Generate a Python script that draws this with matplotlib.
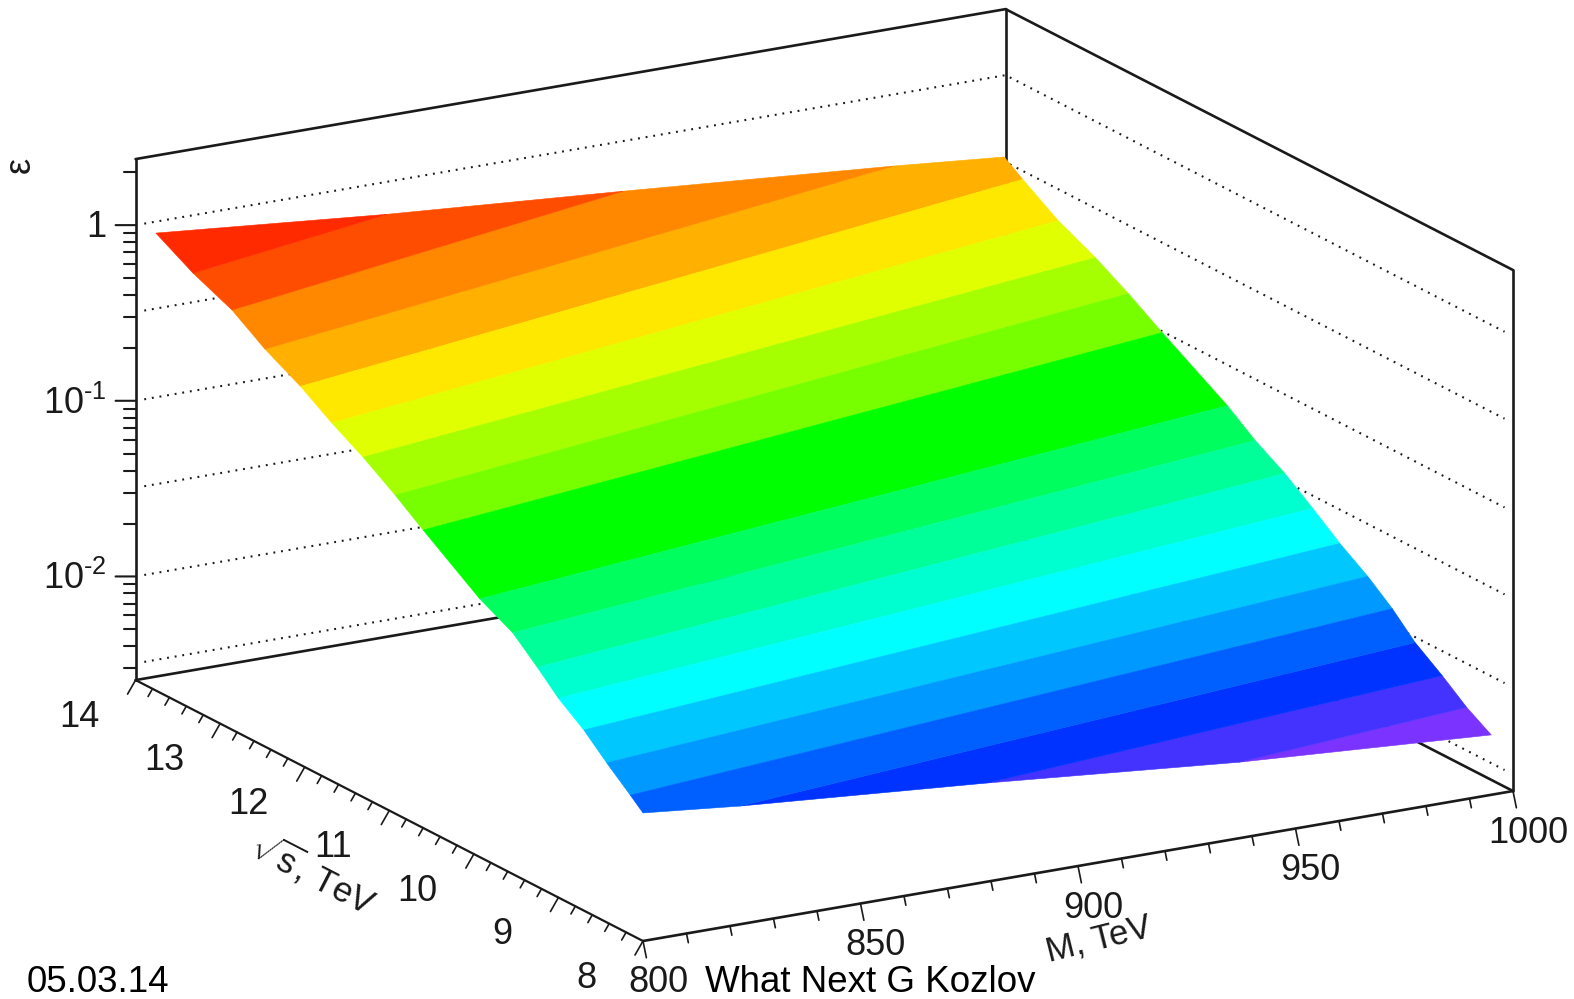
import numpy as np
import matplotlib
matplotlib.use('Agg')
import matplotlib.pyplot as plt
from mpl_toolkits.mplot3d import proj3d
from mpl_toolkits.mplot3d.art3d import Poly3DCollection

plt.rcParams['font.family'] = ['Liberation Sans', 'DejaVu Sans']
plt.rcParams['mathtext.fontset'] = 'custom'
plt.rcParams['mathtext.rm'] = 'Liberation Sans'
plt.rcParams['mathtext.it'] = 'Liberation Sans:italic'
plt.rcParams['mathtext.default'] = 'regular'

# axis ranges
m_lim = (800, 1000)
s_lim = (8, 14)
z_lim = (-2.59, 0.376)  # log10(eps)

m_major = [800, 850, 900, 950, 1000]
s_major = [8, 9, 10, 11, 12, 13, 14]
z_major = [1, 0.1, 0.01]
z_major_labels = ['1', '10$^{\u20101}$', '10$^{\u20102}$']
z_minor = [2, 0.9, 0.8, 0.7, 0.6, 0.5, 0.4, 0.3, 0.2,
           0.09, 0.08, 0.07, 0.06, 0.05, 0.04, 0.03, 0.02,
           0.009, 0.008, 0.007, 0.006, 0.005, 0.004, 0.003]
z_grid = [1, 0.32, 0.1, 0.032, 0.01, 0.0032]

# surface corners (M, sqrt(s), log10 eps)
corner_tl = (800, 13.76, 0.014)
corner_tr = (995, 13.76, -0.385)
corner_fl = (800, 8.0, -1.861)
corner_fr = (995, 8.0, -2.249)

# colour band boundaries, read along the edges of the surface
start_m = [800] * 15 + [822.3, 879, 937]
start_s = [13.32, 12.86, 12.47, 12.05, 11.68, 11.31, 10.93, 10.60, 9.93,
           9.54, 9.25, 9.00, 8.70, 8.43, 8.15, 8.0, 8.0, 8.0]
start_z = [-0.105, -0.201, -0.327, -0.435, -0.552, -0.655, -0.777, -0.894, -1.120,
           -1.217, -1.341, -1.456, -1.562, -1.682, -1.797, -1.917, -2.028, -2.157]
end_m = [853.2, 907.4, 969.5] + [995] * 15
end_s = [13.76, 13.76, 13.76, 13.54, 13.12, 12.68, 12.29, 11.89, 11.12,
         10.79, 10.44, 10.11, 9.79, 9.46, 9.17, 8.90, 8.58, 8.29]
end_z = [-0.106, -0.206, -0.328, -0.458, -0.589, -0.691, -0.799, -0.922, -1.147,
         -1.264, -1.365, -1.482, -1.602, -1.708, -1.820, -1.946, -2.055, -2.164]

band_colors = ['#ff2a00', '#ff4d00', '#ff8800', '#ffb000', '#ffe800', '#e0ff00', '#a6ff00',
               '#77ff00', '#00ff00', '#00ff5e', '#00ff99', '#00ffd0', '#00ffff', '#00c8ff',
               '#0099ff', '#0060ff', '#0033ff', '#4433ff', '#7b33ff']

line_color = '#1a1a1a'
text_color = '#1a1a1a'

fig = plt.figure(figsize=(15.74, 9.99), dpi=100)
W, H = 1574, 999
side = 2000
ax = fig.add_axes([(W - side) / 2 / W, (H - side) / 2 / H, side / W, side / H],
                  projection='3d', proj_type='ortho', computed_zorder=False)
ax.set_axis_off()
ax.set_xlim(*m_lim, view_margin=0)
ax.set_ylim(*s_lim, view_margin=0)
ax.set_zlim(*z_lim, view_margin=0)
ax.view_init(elev=17.32, azim=-120.07)
aspect = (1005.2, 1012.6, 545.7)
ax.set_box_aspect(aspect, zoom=1)


def to_pixel(m, s, z):
    x2, y2, _ = proj3d.proj_transform(m, s, z, ax.get_proj())
    return ax.transData.transform((x2, y2))


# scale and shift the box so its front corners land where they do in the picture
ax.apply_aspect()
span = to_pixel(1000, 8, z_lim[0])[0] - to_pixel(800, 8, z_lim[0])[0]
ax.set_box_aspect(aspect, zoom=870 / span)
ax.apply_aspect()
px = to_pixel(800, 8, z_lim[0])
pos = ax.get_position()
ax.set_position([pos.x0 + (643 - px[0]) / W, pos.y0 + ((H - 941) - px[1]) / H, pos.width, pos.height])
ax.apply_aspect()

zlo, zhi = z_lim
mlo, mhi = m_lim
slo, shi = s_lim


def seg(a, b, lw=1.9, **kw):
    kw.setdefault('color', line_color)
    ax.plot([a[0], b[0]], [a[1], b[1]], [a[2], b[2]], lw=lw, zorder=kw.pop('zorder', 3),
            solid_capstyle='round', **kw)


# box
seg((mlo, shi, zlo), (mhi, shi, zlo), zorder=1)
seg((mhi, shi, zlo), (mhi, slo, zlo), zorder=1)
seg((mhi, shi, zlo), (mhi, shi, zhi), zorder=1)
seg((mlo, shi, zhi), (mhi, shi, zhi))
seg((mhi, shi, zhi), (mhi, slo, zhi))
seg((mlo, shi, zlo), (mlo, shi, zhi))
seg((mhi, slo, zlo), (mhi, slo, zhi))
seg((mlo, shi, zlo), (mlo, slo, zlo), lw=1.6)
seg((mlo, slo, zlo), (mhi, slo, zlo))

# dotted grid on the two back walls
for v in z_grid:
    z = np.log10(v)
    ax.plot([mlo + 2, mhi, mhi], [shi, shi, slo + 0.1], [z, z, z], color=line_color, lw=1.5,
            linestyle=(0, (0.9, 2.8)), zorder=1)

# surface, one polygon per colour band
polys = []
for i in range(len(band_colors)):
    poly = []
    if i == 0:
        poly.append(corner_tl)
    else:
        poly.append((start_m[i - 1], start_s[i - 1], start_z[i - 1]))
        poly.append((end_m[i - 1], end_s[i - 1], end_z[i - 1]))
    if i == 3:
        poly.append(corner_tr)
    if i < len(start_m):
        poly.append((end_m[i], end_s[i], end_z[i]))
        poly.append((start_m[i], start_s[i], start_z[i]))
    else:
        poly.append(corner_fr)
    if i == 15:
        poly.append(corner_fl)
    polys.append(poly)
surf = Poly3DCollection(polys, facecolors=band_colors, edgecolors=band_colors, linewidths=0.4, zorder=2)
ax.add_collection3d(surf, autolim=False)

# eps axis ticks, horizontal on screen
flat = 0.75 / 175.7


def z_tick(z, length):
    dm = length / 4.35
    seg((mlo, shi, z), (mlo - dm, shi, z + dm * flat), lw=1.5)


for v in z_major:
    z_tick(np.log10(v), 20)
for v in z_minor:
    z_tick(np.log10(v), 12)
for v, lab in zip(z_major, z_major_labels):
    z = np.log10(v)
    ax.text(mlo - 6.7, shi, z + 6.7 * flat - 0.015, lab, ha='right', va='center', fontsize=26, color=text_color)
ax.text(mlo - 26.4, shi, 0.34 + 26.4 * flat, '\u03b5', zdir=(0, 0, 1), ha='center', va='center', fontsize=26,
        color=text_color)

# sqrt(s) axis ticks
for s in np.arange(slo, shi + 0.01, 0.2):
    major = abs(s - round(s)) < 0.01
    k = 1.0 if major else 0.55
    seg((mlo, s, zlo), (mlo - 1.84 * k, s, zlo - 0.072 * k), lw=1.2)
for s in s_major:
    ax.text(mlo - 12.9, s, zlo - 0.157, str(s), ha='center', va='center', fontsize=26, color=text_color)
ax.text(mlo, 11.9, zlo - 0.58, r'$\sqrt{s}$, TeV', zdir=(0, -1, 0), ha='center', va='center', fontsize=25,
        color=text_color)

# M axis ticks
for m in np.arange(mlo, mhi + 0.01, 10):
    major = abs(m % 50) < 0.01
    k = 1.0 if major else 0.55
    seg((m, slo, zlo), (m, slo - 0.04 * k, zlo - 0.0854 * k), lw=1.2)
for m in m_major:
    ax.text(m + 3.5, slo, zlo - 0.254, str(m), ha='center', va='center', fontsize=26, color=text_color)
ax.text(904.8, slo, zlo - 0.438, 'M, TeV', zdir=(1, 0, 0.0019), ha='center', va='center', fontsize=25,
        color=text_color)

fig.text(27 / W, (H - 992) / H, '05.03.14', fontsize=26.5, color='black', va='baseline')
fig.text(705 / W, (H - 992) / H, 'What Next G Kozlov', fontsize=26.5, color='black', va='baseline')

fig.savefig('out.png', dpi=100, facecolor='white')
